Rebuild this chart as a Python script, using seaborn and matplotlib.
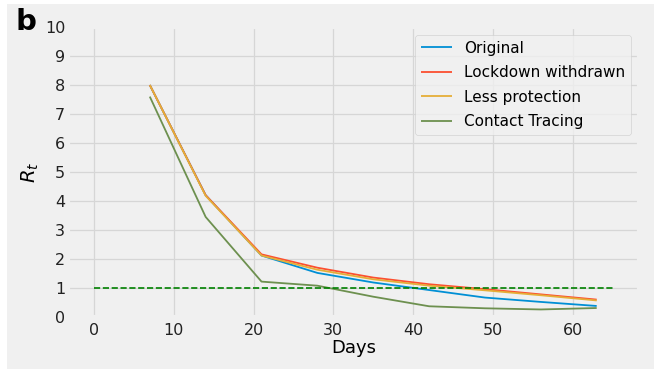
import pandas as pd
import matplotlib
matplotlib.use('Agg')
import matplotlib.pyplot as plt
import seaborn as sns
from matplotlib.patches import Rectangle

# Rt values, one point per week.
days = [7, 14, 21, 28, 35, 42, 49, 56, 63]
original = [8.0, 4.2, 2.12, 1.52, 1.19, 0.93, 0.67, 0.52, 0.38]
lockdown_withdrawn = [8.0, 4.2, 2.16, 1.70, 1.36, 1.13, 0.96, 0.78, 0.60]
less_protection = [8.0, 4.18, 2.12, 1.63, 1.30, 1.08, 0.92, 0.75, 0.57]
contact_tracing = [7.6, 3.45, 1.22, 1.08, 0.70, 0.37, 0.30, 0.26, 0.31]
scenarios = ['Original', 'Lockdown withdrawn', 'Less protection', 'Contact Tracing']
palette = ['#008fd5', '#fc4f30', '#e5ae38', '#6d904f']

# Long table for seaborn.
series = [original, lockdown_withdrawn, less_protection, contact_tracing]
data = pd.DataFrame({
    'Days': days * len(scenarios),
    'Rt': [v for s in series for v in s],
    'scenario': [name for name in scenarios for _ in days],
})

plt.style.use('fivethirtyeight')
fig = plt.figure(figsize=(6.56, 3.73), dpi=100, facecolor='white')
# grey panel with thin white margin, as in the source image
fig.patches.append(Rectangle((7 / 656, 4 / 373), 647 / 656, 365 / 373,
                             transform=fig.transFigure, facecolor='#f0f0f0',
                             edgecolor='none', zorder=-10))
ax = fig.add_axes([68 / 656, 56 / 373, 570.6 / 656, 290 / 373])
ax.set_facecolor('#f0f0f0')

sns.lineplot(data=data, x='Days', y='Rt', hue='scenario', hue_order=scenarios,
             palette=palette, linewidth=1.3, ax=ax)

# threshold Rt = 1
ax.plot([0, 65], [1, 1], 'g--', linewidth=1.2)

ax.set_xlim(-3.25, 68.25)
ax.set_ylim(0, 10)
ax.set_xticks(range(0, 61, 10))
ax.set_yticks(range(0, 11))
ax.tick_params(labelsize=11.5, colors='#222222')
ax.tick_params(axis='x', pad=4)
ax.tick_params(axis='y', pad=2)
ax.grid(True, color='#d6d6d6', linewidth=0.9)
ax.set_xlabel('Days', fontsize=13, labelpad=1)
ax.set_ylabel('$R_t$', fontsize=14)
ax.yaxis.set_label_coords(-0.047, 0.5)

ax.legend(loc='upper right', fontsize=11, labelspacing=0.62, title=None)

fig.text(16 / 656, 1 - 8 / 373, 'b', fontsize=21, fontweight='bold',
         ha='left', va='top')

fig.savefig('out.png', dpi=100, facecolor=fig.get_facecolor())
